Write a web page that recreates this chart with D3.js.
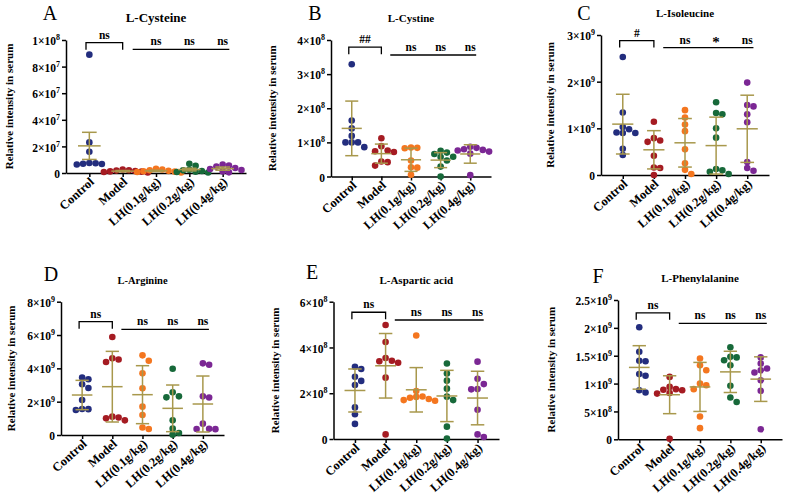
<!DOCTYPE html>
<html>
<head>
<meta charset="utf-8">
<script src="https://cdn.jsdelivr.net/npm/d3@7"></script>
<style>
  body { margin: 0; background: #fff; }
  text { font-family: "Liberation Serif", "Times New Roman", serif; }
</style>
</head>
<body>
<div id="chart"></div>
<script>
// groups and colours
var groups = ["Control", "Model", "LH(0.1g/kg)", "LH(0.2g/kg)", "LH(0.4g/kg)"];
var groupColors = ["#232d7e", "#a51b22", "#f4761f", "#17693a", "#7b2794"];
var errColor = "#a8984c";

// A  L-Cysteine  (x1e6)
var cysteine = [
  [89, 23, 16, 7.5, 7.3, 7, 6.8, 6.4],
  [2.6, 2.1, 1.8, 1.5, 1.2, 1.0, 0.7, 0.4],
  [3.2, 2.6, 2.1, 1.6, 1.3, 1.0, 0.7, 0.4],
  [7.0, 5.5, 2.5, 2.0, 1.5, 1.0, 0.7, 0.4],
  [6.3, 5.6, 4.8, 3.8, 3.0, 2.2, 1.2, 0.5]
];
var cysteineMean = [20.4, 1.4, 1.6, 2.6, 3.3];
var cysteineErr = [10.2, 0.5, 0.5, 1.0, 1.2];

// B  L-Cystine  (x1e8)
var cystine = [
  [3.29, 1.64, 1.41, 1.19, 1.0, 1.0, 1.0, 0.86],
  [1.12, 0.89, 0.76, 0.74, 0.72, 0.44, 0.42, 0.32],
  [0.85, 0.84, 0.83, 0.47, 0.27, 0.26, 0.05],
  [0.75, 0.70, 0.66, 0.58, 0.57, 0.47, 0.29, 0.0],
  [0.87, 0.84, 0.80, 0.78, 0.76, 0.73, 0.67, 0.04]
];
var cystineMean = [1.41, 0.67, 0.49, 0.48, 0.66];
var cystineErr = [0.80, 0.28, 0.34, 0.22, 0.27];

// C  L-Isoleucine  (x1e9)
var isoleucine = [
  [2.53, 1.34, 1.03, 0.98, 0.91, 0.90, 0.90, 0.56, 0.43],
  [1.14, 0.79, 0.74, 0.71, 0.41, 0.16, 0.15, 0.0],
  [1.39, 1.23, 1.08, 0.94, 0.55, 0.25, 0.11, 0.02],
  [1.56, 1.33, 1.30, 1.0, 0.8, 0.13, 0.10, 0.07, 0.02],
  [1.98, 1.50, 1.47, 1.30, 1.13, 0.28, 0.15, 0.09]
];
var isoleucineMean = [1.09, 0.54, 0.69, 0.63, 0.99];
var isoleucineErr = [0.64, 0.41, 0.52, 0.61, 0.72];

// D  L-Arginine  (x1e9)
var arginine = [
  [3.45, 3.35, 3.05, 2.82, 2.1, 1.56, 1.55, 1.5],
  [5.88, 4.6, 4.53, 4.38, 1.1, 1.05, 1.0, 0.88],
  [4.78, 4.46, 3.7, 2.8, 1.7, 1.2, 0.45, 0.36],
  [3.98, 2.56, 2.32, 2.26, 0.88, 0.38, 0.12, 0.02],
  [4.3, 4.22, 2.32, 2.25, 0.68, 0.37, 0.36, 0.35]
];
var arginineMean = [2.4, 2.9, 2.42, 1.6, 1.86];
var arginineErr = [0.88, 2.12, 1.74, 1.4, 1.68];

// E  L-Aspartic acid  (x1e8)
var aspartic = [
  [3.16, 3.06, 2.72, 2.54, 2.36, 1.38, 1.08, 0.66],
  [4.98, 4.24, 3.54, 3.42, 3.40, 3.33, 2.68, 0.2],
  [4.52, 2.1, 1.86, 1.84, 1.8, 1.75, 1.7, 1.67],
  [3.3, 2.86, 2.55, 2.2, 1.85, 1.7, 0.54, 0.02],
  [3.38, 2.63, 2.4, 2.18, 2.17, 1.28, 0.2, 0.09]
];
var asparticMean = [2.12, 3.2, 2.15, 1.88, 1.79];
var asparticErr = [0.94, 1.41, 0.97, 1.12, 1.17];

// F  L-Phenylalanine  (x1e9)
var phenylalanine = [
  [2.01, 1.57, 1.41, 1.40, 1.17, 1.14, 0.88, 0.84],
  [1.12, 0.94, 0.90, 0.89, 0.88, 0.83, 0.82, 0.01],
  [1.45, 1.33, 1.24, 1.0, 0.97, 0.90, 0.41, 0.2],
  [1.65, 1.48, 1.47, 1.42, 1.33, 0.96, 0.75, 0.67],
  [1.47, 1.36, 1.27, 1.24, 1.20, 1.06, 0.87, 0.18]
];
var phenylalanineMean = [1.29, 0.80, 0.94, 1.21, 1.08];
var phenylalanineErr = [0.39, 0.34, 0.44, 0.37, 0.40];

// significance labels
var sigBracket = ["ns", "##", "#", "ns", "ns", "ns"];
var sigLine = [
  ["ns", "ns", "ns"], ["ns", "ns", "ns"], ["ns", "*", "ns"],
  ["ns", "ns", "ns"], ["ns", "ns", "ns"], ["ns", "ns", "ns"]
];

// y ticks (in panel units)
var cysteineTicks = [0, 20, 40, 60, 80, 100];
var cystineTicks = [0, 1, 2, 3, 4];
var isoleucineTicks = [0, 1, 2, 3];
var arginineTicks = [0, 2, 4, 6, 8];
var asparticTicks = [0, 2, 4, 6];
var phenylalanineTicks = [0, 0.5, 1, 1.5, 2, 2.5];

// panel layout
var panels = [
  {letter: "A", title: "L-Cysteine", titleSize: 13, unit: 1e6, vals: cysteine, mean: cysteineMean, err: cysteineErr, ticks: cysteineTicks,
   left: 66, right: 246, top: 40, bottom: 173, letterX: 50, letterY: 20, yTitleX: 9, bracketV: 98, lineV: 93},
  {letter: "B", title: "L-Cystine", titleSize: 11, unit: 1e8, vals: cystine, mean: cystineMean, err: cystineErr, ticks: cystineTicks,
   left: 331, right: 491, top: 40, bottom: 176.5, letterX: 315, letterY: 20, yTitleX: 272, bracketV: 3.79, lineV: 3.56},
  {letter: "C", title: "L-Isoleucine", titleSize: 11, unit: 1e9, vals: isoleucine, mean: isoleucineMean, err: isoleucineErr, ticks: isoleucineTicks,
   left: 601, right: 769, top: 35, bottom: 175, letterX: 584, letterY: 20, yTitleX: 550, bracketV: 2.88, lineV: 2.73},
  {letter: "D", title: "L-Arginine", titleSize: 10.5, unit: 1e9, vals: arginine, mean: arginineMean, err: arginineErr, ticks: arginineTicks,
   left: 61, right: 224, top: 301.7, bottom: 435, letterX: 51, letterY: 281, yTitleX: 11, bracketV: 6.8, lineV: 6.34},
  {letter: "E", title: "L-Aspartic acid", titleSize: 11, unit: 1e8, vals: aspartic, mean: asparticMean, err: asparticErr, ticks: asparticTicks,
   left: 333.5, right: 499, top: 301.7, bottom: 439, letterX: 312, letterY: 279, yTitleX: 275, bracketV: 5.54, lineV: 5.2},
  {letter: "F", title: "L-Phenylalanine", titleSize: 11, unit: 1e9, vals: phenylalanine, mean: phenylalanineMean, err: phenylalanineErr, ticks: phenylalanineTicks,
   left: 618, right: 782, top: 300, bottom: 439.3, letterX: 598, letterY: 283, yTitleX: 551, bracketV: 2.27, lineV: 2.08}
];

var width = 786, height = 499;
var dotR = 3.3;

var svg = d3.select("#chart").append("svg")
    .attr("width", width)
    .attr("height", height)
    .style("background", "#fff");

// put dots side by side when they overlap
function swarm(vals, yScale) {
  var order = vals.map(function(d, i) { return i; })
                  .sort(function(a, b) { return vals[b] - vals[a]; });
  var placed = [], off = [];
  var s = dotR * 1.9;
  order.forEach(function(i) {
    var yi = yScale(vals[i]);
    for (var k = 0; k < 30; k++) {
      var dx = k === 0 ? 0 : (k % 2 ? 1 : -1) * Math.ceil(k / 2) * s;
      var hit = placed.some(function(p) {
        return Math.hypot(p.x - dx, p.y - yi) < dotR * 1.8;
      });
      if (!hit) { off[i] = dx; placed.push({x: dx, y: yi}); break; }
    }
  });
  return off;
}

function tickText(sel, v, unit) {
  sel.text(null);
  if (v === 0) { sel.text("0"); return; }
  var full = v * unit;
  var exp = Math.floor(Math.log10(full) + 1e-9);
  var mant = +(full / Math.pow(10, exp)).toFixed(2);
  sel.append("tspan").text(mant + "\u00d710");
  sel.append("tspan").attr("dy", -5).style("font-size", "8px").text(exp);
}

panels.forEach(function(p, pi) {
  var g = svg.append("g");
  var max = p.ticks[p.ticks.length - 1];

  var y = d3.scaleLinear().domain([0, max]).range([p.bottom, p.top]);
  var x = d3.scalePoint().domain(groups).range([p.left, p.right]).padding(0.7);
  var step = x.step();

  // axes
  var yAxis = g.append("g")
      .attr("transform", "translate(" + p.left + ",0)")
      .call(d3.axisLeft(y).tickValues(p.ticks).tickSize(4).tickSizeOuter(0));
  yAxis.selectAll("text").each(function(d) { tickText(d3.select(this), d, p.unit); })
      .style("font-size", "11.5px").style("font-weight", "bold").attr("x", -6).attr("dy", "0.4em");

  var xAxis = g.append("g")
      .attr("transform", "translate(0," + p.bottom + ")")
      .call(d3.axisBottom(x).tickSize(4).tickSizeOuter(0));
  xAxis.selectAll("text")
      .attr("x", 0).attr("y", 0).attr("dy", null)
      .attr("transform", "translate(5,10) rotate(-42)")
      .style("text-anchor", "end")
      .style("font-size", "12.5px").style("font-weight", "bold");

  g.selectAll(".domain, .tick line").attr("stroke", "#000").attr("stroke-width", 1.5);

  // dots
  p.vals.forEach(function(vals, gi) {
    var off = swarm(vals, y);
    g.selectAll(null)
        .data(vals)
        .enter()
        .append("circle")
        .attr("cx", function(d, i) { return x(groups[gi]) + off[i]; })
        .attr("cy", function(d) { return y(d); })
        .attr("r", dotR)
        .attr("fill", groupColors[gi]);
  });

  // mean +- error
  var eb = g.selectAll(".eb").data(groups).enter().append("g")
      .attr("stroke", errColor).attr("stroke-width", 1.5).attr("fill", "none");
  eb.append("line")
      .attr("x1", function(d) { return x(d); }).attr("x2", function(d) { return x(d); })
      .attr("y1", function(d, i) { return y(Math.max(0, p.mean[i] - p.err[i])); })
      .attr("y2", function(d, i) { return y(p.mean[i] + p.err[i]); });
  eb.append("line")
      .attr("x1", function(d) { return x(d) - step * 0.34; }).attr("x2", function(d) { return x(d) + step * 0.34; })
      .attr("y1", function(d, i) { return y(p.mean[i]); }).attr("y2", function(d, i) { return y(p.mean[i]); });
  [1, -1].forEach(function(sgn) {
    eb.append("line")
        .attr("x1", function(d) { return x(d) - step * 0.22; }).attr("x2", function(d) { return x(d) + step * 0.22; })
        .attr("y1", function(d, i) { return y(Math.max(0, p.mean[i] + sgn * p.err[i])); })
        .attr("y2", function(d, i) { return y(Math.max(0, p.mean[i] + sgn * p.err[i])); });
  });

  // significance
  var by = y(p.bracketV), ly = y(p.lineV);
  var bx0 = x(groups[0]) - step * 0.1, bx1 = x(groups[1]);
  g.append("path")
      .attr("d", "M" + bx0 + "," + (by + 7) + "V" + by + "H" + bx1 + "V" + (by + 7))
      .attr("fill", "none").attr("stroke", "#000").attr("stroke-width", 1.3);
  g.append("text")
      .attr("x", (bx0 + bx1) / 2).attr("y", by - 4)
      .attr("text-anchor", "middle")
      .style("font-size", "11.5px").style("font-weight", "bold")
      .text(sigBracket[pi]);
  g.append("line")
      .attr("x1", x(groups[1]) + step * 0.3).attr("x2", x(groups[4]) + step * 0.2)
      .attr("y1", ly).attr("y2", ly)
      .attr("stroke", "#000").attr("stroke-width", 1.3);
  g.selectAll(null).data(sigLine[pi]).enter().append("text")
      .attr("x", function(d, i) { return x(groups[i + 2]); })
      .attr("y", function(d) { return d === "*" ? ly - 1 : ly - 4; })
      .attr("text-anchor", "middle")
      .style("font-size", function(d) { return d === "*" ? "15px" : "11.5px"; })
      .style("font-weight", "bold")
      .text(function(d) { return d; });

  // titles
  g.append("text")
      .attr("x", p.letterX).attr("y", p.letterY)
      .attr("text-anchor", "middle")
      .style("font-size", "20px")
      .text(p.letter);
  g.append("text")
      .attr("x", (p.left + p.right) / 2).attr("y", p.top - 18)
      .attr("text-anchor", "middle")
      .style("font-size", p.titleSize + "px").style("font-weight", "bold")
      .text(p.title);
  g.append("text")
      .attr("transform", "translate(" + p.yTitleX + "," + (p.top + p.bottom) / 2 + ") rotate(-90)")
      .attr("text-anchor", "middle")
      .attr("dy", "0.35em")
      .style("font-size", "11px").style("font-weight", "bold")
      .text("Relative intensity in serum");
});
</script>
</body>
</html>
